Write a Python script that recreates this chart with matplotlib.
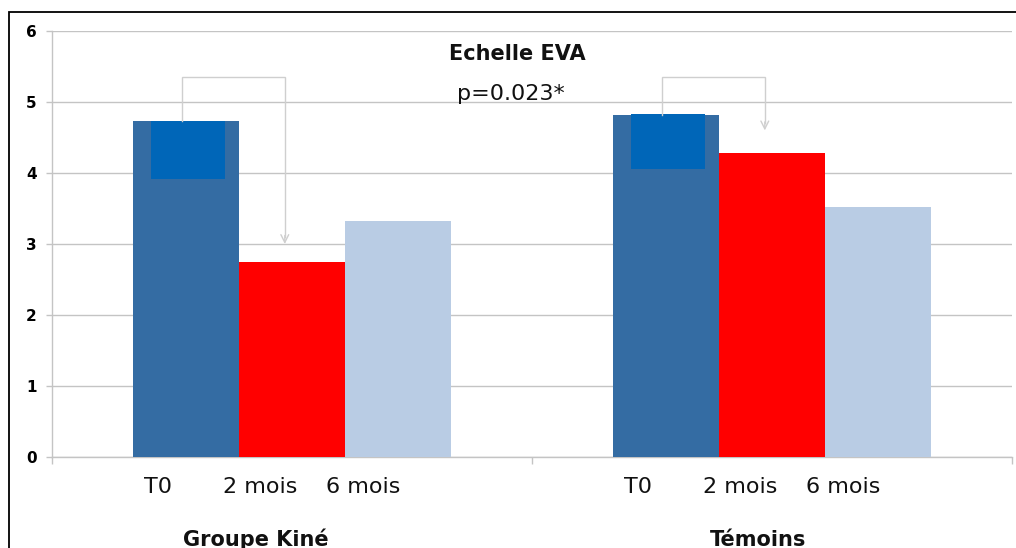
"""
Echelle EVA : Groupe Kiné vs Témoins (T0, 2 mois, 6 mois).
"""

import matplotlib
matplotlib.use('Agg')
import matplotlib.pyplot as plt
import matplotlib.transforms as mtransforms
from matplotlib.patches import Rectangle
import numpy as np


# Données
groupes = ['Groupe Kiné', 'Témoins']
periodes = ['T0', '2 mois', '6 mois']
valeurs_t0 = [4.73, 4.82]
valeurs_2mois = [2.75, 4.28]
valeurs_6mois = [3.32, 3.52]

# Rectangle plus foncé superposé en haut des barres T0
surbrillance_haut = [4.73, 4.83]
surbrillance_bas = [3.92, 4.06]

# Flèches T0 -> 2 mois
fleche_haut = 5.35
fleche_fin = [3.0, 4.6]

titre = 'Echelle EVA'
p_valeur = 'p=0.023*'

# Couleurs
COULEURS = ['#346CA3', '#FF0000', '#B9CCE4']
COULEUR_SURBRILLANCE = '#0066B8'
GRIS = '#C4C4C4'
GRIS_FLECHE = '#CFCFCF'

plt.rcParams['font.family'] = ['DejaVu Sans']

fig = plt.figure(figsize=(10.16, 5.48), dpi=100)
ax = fig.add_axes([52 / 1016, 91 / 548, 960 / 1016, 426 / 548])

x = np.arange(len(groupes))
largeur = 0.221
series = [valeurs_t0, valeurs_2mois, valeurs_6mois]
decalages = [-largeur, 0, largeur]

for serie, dec, couleur in zip(series, decalages, COULEURS):
    ax.bar(x + dec, serie, width=largeur, color=couleur, zorder=3, linewidth=0)

# Zone foncée sur T0
hauteurs = np.array(surbrillance_haut) - np.array(surbrillance_bas)
ax.bar(x - largeur + 0.005, hauteurs, bottom=surbrillance_bas, width=0.154,
       color=COULEUR_SURBRILLANCE, zorder=4, linewidth=0)

# Flèches
for i in range(len(groupes)):
    x_gauche = x[i] - largeur - 0.008
    x_droite = x[i] - 0.015
    ax.plot([x_gauche, x_gauche, x_droite, x_droite],
            [valeurs_t0[i], fleche_haut, fleche_haut, fleche_fin[i] + 0.1],
            color=GRIS_FLECHE, lw=1.0, zorder=5, solid_joinstyle='miter')
    ax.annotate('', xy=(x_droite, fleche_fin[i]), xytext=(x_droite, fleche_fin[i] + 0.12),
                arrowprops=dict(arrowstyle='->', color=GRIS_FLECHE, lw=1.0,
                                mutation_scale=14, shrinkA=0, shrinkB=0),
                zorder=5)

# Axes
ax.set_xlim(-0.5, 1.5)
ax.set_ylim(0, 6)
ax.set_yticks(range(0, 7))
ax.set_yticklabels([str(v) for v in range(0, 7)], fontweight='bold', fontsize=11)
ax.tick_params(axis='y', length=4, color=GRIS, pad=7, width=1)
ax.set_xticks([])
ax.set_xticks([-0.5, 0.5, 1.5], minor=True)
ax.tick_params(axis='x', which='minor', length=5, color=GRIS, width=1)
ax.grid(axis='y', color=GRIS, lw=1.0, zorder=0)
ax.set_axisbelow(True)
for cote in ['top', 'right']:
    ax.spines[cote].set_visible(False)
for cote in ['left', 'bottom']:
    ax.spines[cote].set_color(GRIS)
    ax.spines[cote].set_linewidth(1.0)

# Étiquettes sous les barres
trans = mtransforms.blended_transform_factory(ax.transData, fig.transFigure)
decalages_etiquettes = [-0.28, -0.067, 0.148]
for i in range(len(groupes)):
    for periode, dec in zip(periodes, decalages_etiquettes):
        ax.text(x[i] + dec, 55 / 548, periode, transform=trans, ha='center',
                va='baseline', fontsize=16, color='#111111')

decalages_groupes = [-0.075, -0.03]
for i, nom in enumerate(groupes):
    ax.text(x[i] + decalages_groupes[i], 2 / 548, nom, transform=trans, ha='center',
            va='baseline', fontsize=15, fontweight='bold', color='#111111')

# Titre et p-valeur
ax.text(0.469, 5.59, titre, ha='center', va='baseline', fontsize=15,
        fontweight='bold', color='#111111', zorder=6)
ax.text(0.455, 5.03, p_valeur, ha='center', va='baseline', fontsize=16,
        color='#111111', zorder=6)

# Cadre noir de l'image (coupé à droite et en bas)
cadre = Rectangle((9 / 1016, -0.1), 1.2, 536 / 548 + 0.1, transform=fig.transFigure,
                  fill=False, edgecolor='black', lw=1.3, clip_on=False)
fig.patches.append(cadre)

fig.savefig('out.png', dpi=100)
